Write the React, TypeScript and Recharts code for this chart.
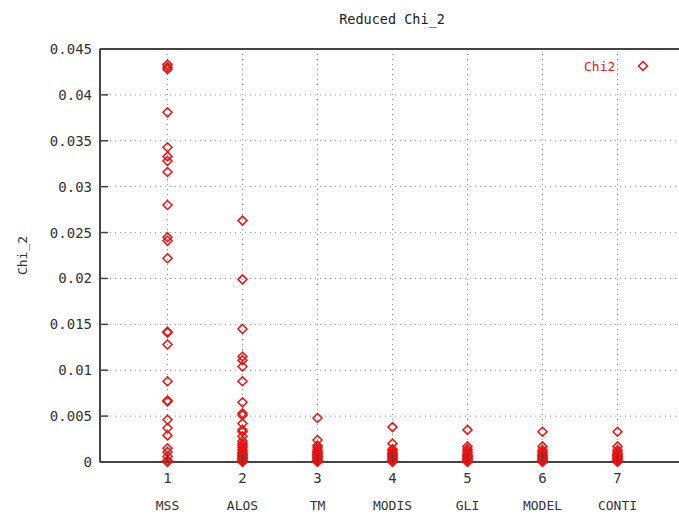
import React from "react"
import {
  ScatterChart,
  Scatter,
  XAxis,
  YAxis,
  CartesianGrid,
  ReferenceLine,
} from "recharts"

// category names shown under the numeric ticks
const categories = ["MSS", "ALOS", "TM", "MODIS", "GLI", "MODEL", "CONTI"]
const xTicks = [1, 2, 3, 4, 5, 6, 7]
const yTicks = [0, 0.005, 0.01, 0.015, 0.02, 0.025, 0.03, 0.035, 0.04, 0.045]

// reduced chi^2 values per sensor
const mss = [0.0433, 0.043, 0.0428, 0.0381, 0.0343, 0.0333, 0.0328, 0.0316, 0.028, 0.0245, 0.0241, 0.0222, 0.0142, 0.0141, 0.0128, 0.0088, 0.0067, 0.0066, 0.0046, 0.0037, 0.0029, 0.0015, 0.0011, 0.0006, 0.0002, 0.0]
const alos = [0.0263, 0.0199, 0.0145, 0.0115, 0.0111, 0.0104, 0.0088, 0.0065, 0.0053, 0.0051, 0.0042, 0.0035, 0.0033, 0.0028, 0.0023, 0.002, 0.0018, 0.0016, 0.0014, 0.0012, 0.001, 0.0009, 0.0008, 0.0007, 0.0006, 0.0005, 0.0004, 0.0003, 0.0002, 0.0001, 0.0]
const tm = [0.0048, 0.0024, 0.0018, 0.0016, 0.0014, 0.0012, 0.0011, 0.001, 0.0009, 0.0008, 0.0007, 0.0006, 0.0005, 0.0004, 0.0003, 0.0002, 0.0001, 0.0]
const modis = [0.0038, 0.002, 0.0014, 0.0012, 0.001, 0.0009, 0.0008, 0.0007, 0.0006, 0.0005, 0.0004, 0.0003, 0.0002, 0.0001, 0.0]
const gli = [0.0035, 0.0017, 0.0014, 0.0012, 0.001, 0.0008, 0.0007, 0.0006, 0.0005, 0.0004, 0.0003, 0.0002, 0.0001, 0.0]
const model = [0.0033, 0.0017, 0.0013, 0.0011, 0.001, 0.0008, 0.0007, 0.0006, 0.0005, 0.0004, 0.0003, 0.0002, 0.0001, 0.0]
const conti = [0.0033, 0.0017, 0.0013, 0.0011, 0.0009, 0.0008, 0.0007, 0.0006, 0.0005, 0.0004, 0.0003, 0.0002, 0.0001, 0.0]

const series = [mss, alos, tm, modis, gli, model, conti]
const data = series.flatMap((vals, i) => vals.map((v) => ({ x: i + 1, y: v })))

const RED = "#ee1111"
const AXIS = "#444"
const FONT = "'DejaVu Sans Mono', monospace"

const Diamond = (props: any) => {
  const { cx, cy } = props
  if (cx == null || cy == null) return null
  const r = 4.5
  return (
    <path
      d={`M${cx},${cy - r}L${cx + r},${cy}L${cx},${cy + r}L${cx - r},${cy}Z`}
      fill="none"
      stroke={RED}
      strokeWidth={1.5}
    />
  )
}

const YTick = (props: any) => {
  const { x, y, payload } = props
  return (
    <g>
      <line x1={x} y1={y} x2={x + 8} y2={y} stroke={AXIS} strokeWidth={1.5} />
      <text x={x - 8} y={y} dy={5} textAnchor="end" fontFamily={FONT} fontSize={14} fill="#333">
        {String(payload.value)}
      </text>
    </g>
  )
}

const XTick = (props: any) => {
  const { x, y, payload } = props
  return (
    <g>
      <line x1={x} y1={y} x2={x} y2={y - 8} stroke={AXIS} strokeWidth={1.5} />
      <text x={x} y={y + 21} textAnchor="middle" fontFamily={FONT} fontSize={14} fill="#333">
        {payload.value}
      </text>
      <text x={x} y={y + 48} textAnchor="middle" fontFamily={FONT} fontSize={13} fill="#333">
        {categories[payload.value - 1]}
      </text>
    </g>
  )
}

const TopTick = (props: any) => {
  const { x, y } = props
  return <line x1={x} y1={y} x2={x} y2={y + 8} stroke={AXIS} strokeWidth={1.5} />
}

export default function App() {
  return (
    <div style={{ position: "absolute", left: 0, top: 0, width: 679, height: 516, overflow: "hidden", background: "#fff" }}>
      <div
        style={{
          position: "absolute",
          left: 292,
          top: 11,
          width: 200,
          textAlign: "center",
          fontFamily: FONT,
          fontSize: 13.5,
          color: "#222",
        }}
      >
        Reduced Chi_2
      </div>
      <ScatterChart width={690} height={516} margin={{ top: 49, right: 5, bottom: 0, left: 0 }}>
        <CartesianGrid stroke="#999" strokeDasharray="1 4" />
        <XAxis
          type="number"
          dataKey="x"
          domain={[0.1, 7.9]}
          ticks={xTicks}
          height={54}
          tickSize={0}
          tickMargin={0}
          tickLine={false}
          axisLine={{ stroke: AXIS, strokeWidth: 2 }}
          tick={<XTick />}
          interval={0}
        />
        <XAxis
          xAxisId="top"
          orientation="top"
          type="number"
          dataKey="x"
          domain={[0.1, 7.9]}
          ticks={xTicks}
          height={0}
          tickSize={0}
          tickMargin={0}
          tickLine={false}
          axisLine={{ stroke: AXIS, strokeWidth: 2 }}
          tick={<TopTick />}
          interval={0}
        />
        <YAxis
          type="number"
          dataKey="y"
          domain={[0, 0.045]}
          ticks={yTicks}
          width={100}
          tickSize={0}
          tickMargin={0}
          tickLine={false}
          axisLine={{ stroke: AXIS, strokeWidth: 2 }}
          tick={<YTick />}
          interval={0}
          label={{
            value: "Chi_2",
            angle: -90,
            position: "insideLeft",
            offset: 22,
            style: { fontFamily: FONT, fontSize: 13, fill: "#333", textAnchor: "middle" },
          }}
        />
        <ReferenceLine y={0} stroke={AXIS} strokeWidth={2} />
        <ReferenceLine y={0.045} stroke={AXIS} strokeWidth={2} />
        <Scatter name="Chi2" data={data} shape={<Diamond />} isAnimationActive={false} />
      </ScatterChart>
      <div
        style={{
          position: "absolute",
          left: 584,
          top: 58,
          fontFamily: FONT,
          fontSize: 13,
          color: RED,
          display: "flex",
          alignItems: "center",
        }}
      >
        <span>Chi2</span>
        <svg width={40} height={16}>
          <path d="M28,3.5L32.5,8L28,12.5L23.5,8Z" fill="none" stroke={RED} strokeWidth={1.5} />
        </svg>
      </div>
    </div>
  )
}
